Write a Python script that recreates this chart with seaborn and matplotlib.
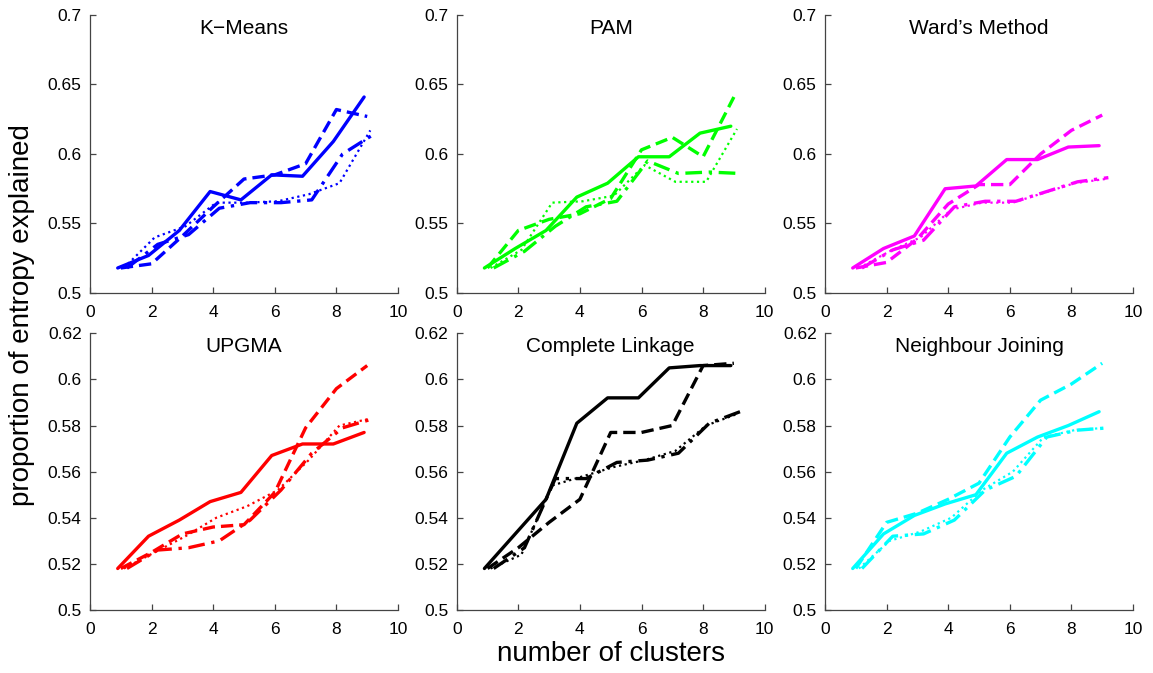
import numpy as np
import pandas as pd
import matplotlib
matplotlib.use("Agg")
import matplotlib.pyplot as plt
import seaborn as sb

# number of clusters
clusters = [1, 2, 3, 4, 5, 6, 7, 8, 9]

methods = ["K\u2212Means", "PAM", "Ward\u2019s Method",
           "UPGMA", "Complete Linkage", "Neighbour Joining"]
colors = ["#0000ff", "#00ff00", "#ff00ff", "#ff0000", "#000000", "#00ffff"]

# four runs per method (solid, dashed, dotted, dash-dot)
kmeans_solid   = [0.518, 0.527, 0.545, 0.573, 0.567, 0.585, 0.584, 0.609, 0.641]
kmeans_dashed  = [0.518, 0.521, 0.541, 0.562, 0.582, 0.585, 0.593, 0.632, 0.627]
kmeans_dotted  = [0.518, 0.540, 0.548, 0.565, 0.565, 0.566, 0.571, 0.579, 0.617]
kmeans_dashdot = [0.518, 0.535, 0.542, 0.561, 0.565, 0.565, 0.567, 0.600, 0.614]

pam_solid   = [0.518, 0.532, 0.545, 0.569, 0.579, 0.598, 0.598, 0.615, 0.620]
pam_dashed  = [0.518, 0.545, 0.553, 0.557, 0.568, 0.603, 0.612, 0.598, 0.641]
pam_dotted  = [0.518, 0.531, 0.565, 0.566, 0.570, 0.592, 0.580, 0.580, 0.618]
pam_dashdot = [0.518, 0.530, 0.548, 0.562, 0.566, 0.595, 0.586, 0.587, 0.586]

ward_solid   = [0.518, 0.532, 0.541, 0.575, 0.577, 0.596, 0.596, 0.605, 0.606]
ward_dashed  = [0.518, 0.522, 0.539, 0.564, 0.578, 0.578, 0.600, 0.617, 0.628]
ward_dotted  = [0.518, 0.530, 0.540, 0.560, 0.565, 0.565, 0.572, 0.579, 0.582]
ward_dashdot = [0.518, 0.531, 0.538, 0.562, 0.566, 0.566, 0.573, 0.580, 0.583]

upgma_solid   = [0.518, 0.532, 0.539, 0.547, 0.551, 0.567, 0.572, 0.572, 0.577]
upgma_dashed  = [0.518, 0.525, 0.533, 0.536, 0.537, 0.551, 0.579, 0.596, 0.606]
upgma_dotted  = [0.518, 0.525, 0.532, 0.540, 0.545, 0.552, 0.565, 0.580, 0.583]
upgma_dashdot = [0.518, 0.526, 0.527, 0.530, 0.539, 0.552, 0.568, 0.579, 0.583]

cl_solid   = [0.518, 0.533, 0.548, 0.581, 0.592, 0.592, 0.605, 0.606, 0.606]
cl_dashed  = [0.518, 0.527, 0.538, 0.548, 0.577, 0.577, 0.580, 0.606, 0.607]
cl_dotted  = [0.518, 0.524, 0.554, 0.558, 0.562, 0.565, 0.569, 0.580, 0.585]
cl_dashdot = [0.518, 0.527, 0.557, 0.557, 0.564, 0.565, 0.568, 0.581, 0.586]

nj_solid   = [0.518, 0.533, 0.541, 0.546, 0.550, 0.568, 0.575, 0.580, 0.586]
nj_dashed  = [0.518, 0.538, 0.542, 0.548, 0.555, 0.575, 0.591, 0.598, 0.607]
nj_dotted  = [0.518, 0.530, 0.534, 0.540, 0.552, 0.560, 0.575, 0.578, 0.579]
nj_dashdot = [0.518, 0.532, 0.533, 0.539, 0.552, 0.558, 0.575, 0.578, 0.579]

runs = [
    [kmeans_solid, kmeans_dashed, kmeans_dotted, kmeans_dashdot],
    [pam_solid, pam_dashed, pam_dotted, pam_dashdot],
    [ward_solid, ward_dashed, ward_dotted, ward_dashdot],
    [upgma_solid, upgma_dashed, upgma_dotted, upgma_dashdot],
    [cl_solid, cl_dashed, cl_dotted, cl_dashdot],
    [nj_solid, nj_dashed, nj_dotted, nj_dashdot],
]

top_yticks = [0.5, 0.55, 0.6, 0.65, 0.7]
top_ylabels = ["0.5", "0.55", "0.6", "0.65", "0.7"]
bot_yticks = [0.5, 0.52, 0.54, 0.56, 0.58, 0.6, 0.62]
bot_ylabels = ["0.5", "0.52", "0.54", "0.56", "0.58", "0.6", "0.62"]
xticks = [0, 2, 4, 6, 8, 10]

# styles: solid, dashed, dotted, dash-dot (small x shift so they don't overlap)
styles = ["-", (0, (3.7, 1.8)), (0, (1, 1.6)), (0, (5, 2, 1, 2))]
widths = [2.4, 2.4, 1.6, 2.4]
shifts = [-0.1, 0.0, 0.1, 0.2]

sb.set_style("ticks")
plt.rcParams['font.family'] = ['Liberation Sans', 'DejaVu Sans']
plt.rcParams['text.color'] = 'black'

fig = plt.figure(figsize=(11.53, 6.73), dpi=100)
W, H = 1153, 673
lefts = [90, 456.7, 825]
tops = [15, 333.3]
bottoms = [293, 610]
aw = 308

for i, name in enumerate(methods):
    r, c = divmod(i, 3)
    ax = fig.add_axes([lefts[c] / W, 1 - bottoms[r] / H, aw / W, (bottoms[r] - tops[r]) / H])
    for k in range(4):
        df = pd.DataFrame({"k": np.array(clusters) + shifts[k], "v": runs[i][k]})
        sb.lineplot(data=df, x="k", y="v", ax=ax, color=colors[i],
                    linestyle=styles[k], linewidth=widths[k])
    ax.set_xlim(0, 10)
    ax.set_xticks(xticks)
    if r == 0:
        ax.set_ylim(0.5, 0.7)
        ax.set_yticks(top_yticks)
        ax.set_yticklabels(top_ylabels)
    else:
        ax.set_ylim(0.5, 0.62)
        ax.set_yticks(bot_yticks)
        ax.set_yticklabels(bot_ylabels)
    ax.set_xlabel("")
    ax.set_ylabel("")
    sb.despine(ax=ax)
    for s in ["left", "bottom"]:
        ax.spines[s].set_color("#444444")
        ax.spines[s].set_linewidth(0.9)
    ax.tick_params(direction="in", length=4, width=0.9, color="#444444",
                   labelsize=12.5, labelcolor="black")
    ax.tick_params(axis="x", pad=8.5)
    ax.tick_params(axis="y", pad=6)
    ax.text(0.5, 0.952, name, transform=ax.transAxes, ha="center", va="center",
            fontsize=15, color="black")

fig.text(22 / W, 1 - 315 / H, "proportion of entropy explained", rotation=90,
         ha="center", va="center", fontsize=20, color="black")
fig.text(611 / W, 1 - 654 / H, "number of clusters", ha="center", va="center",
         fontsize=20, color="black")

fig.savefig("out.png", dpi=100)
